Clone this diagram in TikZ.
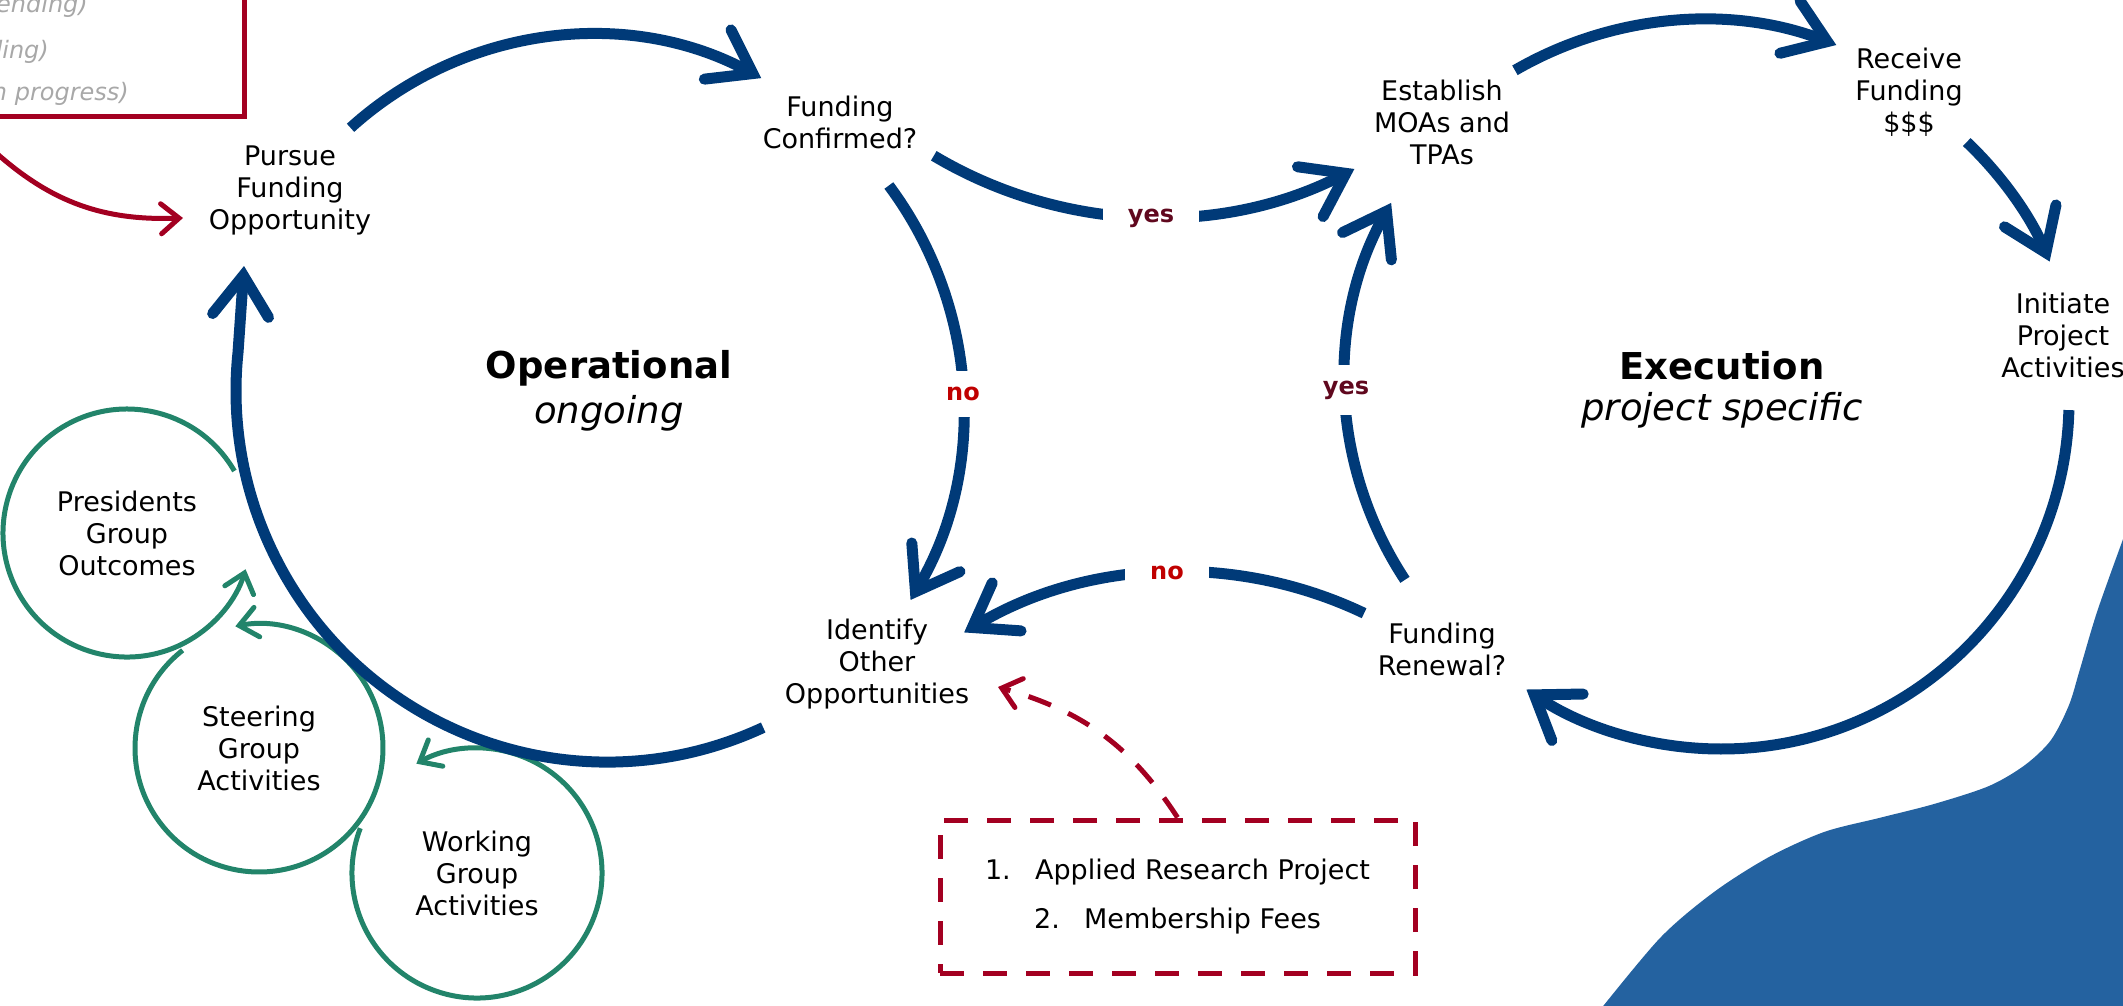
\documentclass[tikz,border=0pt]{standalone}
\usepackage{fontspec}
\setmainfont{DejaVu Sans}
\usetikzlibrary{arrows.meta}
\definecolor{cblue}{RGB}{0,58,120}
\definecolor{cbg}{RGB}{36,98,160}
\definecolor{cgreen}{RGB}{34,132,106}
\definecolor{cred}{RGB}{163,0,33}
\definecolor{cyes}{RGB}{96,8,30}
\definecolor{cno}{RGB}{192,0,0}
\definecolor{cgray}{RGB}{168,168,168}
\begin{document}
\begin{tikzpicture}[x=1pt,y=1pt,
  txt/.style={align=center, inner sep=0pt, font=\fontsize{27pt}{32pt}\selectfont},
  bighead/.style={inner sep=0pt, font=\fontsize{37pt}{44pt}\selectfont\bfseries},
  bigsub/.style={inner sep=0pt, font=\fontsize{37pt}{44pt}\selectfont\itshape},
  barc/.style={draw=cblue, line width=11pt, -{Straight Barb[length=40pt,width=56pt,line cap=round,line join=miter]}},
  garc/.style={draw=cgreen, line width=5pt, -{Straight Barb[length=18pt,width=30pt,line cap=round,line join=miter]}},
  rarr/.style={draw=cred, line width=5pt, -{Straight Barb[length=18pt,width=30pt,line cap=round,line join=miter]}},
  rdash/.style={dash pattern=on 24pt off 19pt},
  ylab/.style={fill=white, text=cyes, inner xsep=25pt, inner ysep=16pt, font=\fontsize{24pt}{28pt}\selectfont\bfseries},
  nlab/.style={fill=white, text=cno, inner xsep=25pt, inner ysep=16pt, font=\fontsize{24pt}{28pt}\selectfont\bfseries},
  gtxt/.style={text=cgray, inner sep=0pt, anchor=base east, font=\fontsize{24pt}{28pt}\selectfont\itshape},
  grp/.style={circle, minimum size=248pt, inner sep=0pt, align=center, font=\fontsize{27pt}{32pt}\selectfont}
]
\useasboundingbox (0,0) rectangle (2123,-1005);

% background shape
\fill[cbg] plot[smooth] coordinates {(1596,-1015) (1660,-938) (1714,-892) (1769,-857) (1824,-832) (1879,-818) (1934,-804) (1989,-786) (2025,-765) (2051,-740) (2069,-705) (2080,-669) (2098,-609) (2130,-520)} -- (2130,-1015) -- cycle;

% top-left note box
\draw[cred, line width=5pt] (-30,30) rectangle (244,-116);
\node[gtxt] (g1) at (88,-12) {ending)};
\node[gtxt] (g2) at (49,-58) {ding)};
\node[gtxt] (g3) at (129,-100) {n progress)};
\coordinate (rs) at (-6,-151);
\coordinate (rt) at (183,-218);
\draw[rarr] (rs) to[out=-42,in=182] (rt);

% text nodes
\node[txt] (pursue) at (290,-190) {Pursue\\Funding\\Opportunity};
\node[txt] (fconf) at (840,-122) {Funding\\Confirmed?};
\node[txt] (estab) at (1442,-122) {Establish\\MOAs and\\TPAs};
\node[txt] (recv) at (1909,-92) {Receive\\Funding\\\$\$\$};
\node[txt] (init) at (2063,-335) {Initiate\\Project\\Activities};
\node[txt] (renew) at (1442,-649) {Funding\\Renewal?};
\node[txt] (ident) at (877,-664) {Identify\\Other\\Opportunities};
\node[bighead] (oper) at (609,-368) {Operational};
\node[bigsub] (ongo) at (609,-413) {ongoing};
\node[bighead] (exec) at (1722,-366) {Execution};
\node[bigsub] (proj) at (1722,-410) {project specific};

% green group circles
\node[grp] (pres) at (127,-533) {Presidents\\Group\\Outcomes};
\node[grp] (steer) at (259,-748) {Steering\\Group\\Activities};
\node[grp] (work) at (477,-873) {Working\\Group\\Activities};
\draw[garc] ([shift={(30:124pt)}]pres.center) arc[start angle=30,end angle=343,radius=124pt];
\draw[garc] ([shift={(128:124pt)}]steer.center) arc[start angle=128,end angle=461,radius=124pt];
\draw[garc] ([shift={(159:125pt)}]work.center) arc[start angle=159,end angle=479,radius=125pt];

% arc centres
\coordinate (cA) at (591,-393);
\coordinate (cNo) at (589,-409);
\coordinate (cLoop) at (607,-391);
\coordinate (cYes) at (1156,217);
\coordinate (cNoB) at (1182,-995);
\coordinate (cYesR) at (1708,-380);
\coordinate (cTR) at (1702,-393);
\coordinate (cR) at (1721,-401);
\coordinate (loopTip) at (244,-266);

% blue arcs
\draw[barc] ([shift={(132.2:358pt)}]cA) arc[start angle=132.2,end angle=61.6,radius=358pt];
\draw[barc] ([shift={(36.7:374pt)}]cNo) arc[start angle=36.7,end angle=-30.7,radius=374pt];
\draw[barc] ([shift={(-65.1:371pt)}]cLoop) arc[start angle=-65.1,end angle=-186,radius=371pt] -- (loopTip);
\draw[barc] ([shift={(-120.8:434pt)}]cYes) arc[start angle=-120.8,end angle=-62.8,radius=434pt];
\draw[barc] ([shift={(64.5:423pt)}]cNoB) arc[start angle=64.5,end angle=121,radius=423pt];
\draw[barc] ([shift={(213.4:363pt)}]cYesR) arc[start angle=213.4,end angle=150.8,radius=363pt];
\draw[barc] ([shift={(120.1:373pt)}]cTR) arc[start angle=120.1,end angle=68.9,radius=373pt];
\draw[barc] ([shift={(46.5:357pt)}]cR) arc[start angle=46.5,end angle=23,radius=357pt];
\draw[barc] ([shift={(-1.5:348pt)}]cR) arc[start angle=-1.5,end angle=-124,radius=348pt];

% yes / no labels
\node[ylab] (yes1) at (1151,-218) {yes};
\node[nlab] (no1) at (963,-394) {no};
\node[nlab] (no2) at (1167,-573) {no};
\node[ylab] (yes2) at (1346,-390) {yes};

% source box
\node[draw=cred, line width=5pt, rdash, minimum width=475pt, minimum height=153pt, inner sep=0pt, align=center, font=\fontsize{27pt}{32pt}\selectfont] (src) at (1177.5,-896.5)
  {1.\hspace{0.9em}Applied Research Project\\[17pt]2.\hspace{0.9em}Membership Fees};
\coordinate (idtip) at (998,-687);
\draw[rarr, rdash] (src.north) to[out=123,in=-16] (idtip);
\end{tikzpicture}
\end{document}
